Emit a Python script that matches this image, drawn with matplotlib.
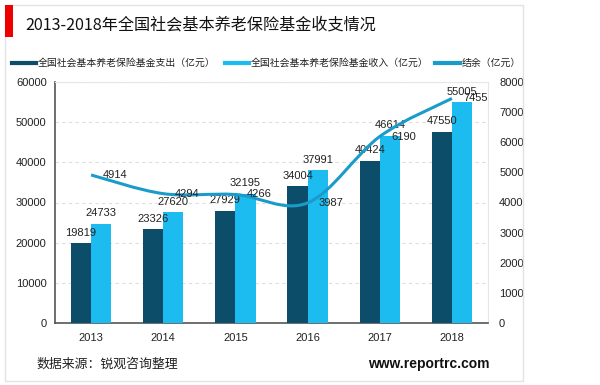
import matplotlib
matplotlib.use("Agg")
import matplotlib.pyplot as plt
from matplotlib.path import Path
from matplotlib.patches import PathPatch, Rectangle
import numpy as np

years = ["2013", "2014", "2015", "2016", "2017", "2018"]
expend = [19819, 23326, 27929, 34004, 40424, 47550]
income = [24733, 27620, 32195, 37991, 46614, 55005]
balance = [4914, 4294, 4266, 3987, 6190, 7455]

title = "2013-2018年全国社会基本养老保险基金收支情况"
leg_expend = "全国社会基本养老保险基金支出（亿元）"
leg_income = "全国社会基本养老保险基金收入（亿元）"
leg_balance = "结余（亿元）"
source = "数据来源：锐观咨询整理"
site = "www.reportrc.com"

CJK = ["Noto Sans CJK SC", "DejaVu Sans"]
NUM = ["Liberation Sans", "DejaVu Sans"]
c_dark = "#0c4e6a"
c_light = "#1cbcf0"
c_line = "#1a9ccb"

W, H = 600, 385
fig = plt.figure(figsize=(W / 100, H / 100), dpi=100)
fig.patch.set_facecolor("white")

# card frame
fig.patches.append(Rectangle((5 / W, 1 - 381 / H), 518 / W, 376 / H, transform=fig.transFigure,
                             facecolor="none", edgecolor="#e2e2e2", lw=1.0))
# red bar
fig.patches.append(Rectangle((5 / W, 1 - 37 / H), 8 / W, 32 / H, transform=fig.transFigure,
                             facecolor="#ee0000", edgecolor="none"))
fig.text(25 / W, 1 - 25 / H, title, family=CJK, fontsize=11.6, va="center", ha="left", color="#111111")

# axes
x0, x1, yt, yb = 55, 488, 82, 323
ax = fig.add_axes([x0 / W, 1 - yb / H, (x1 - x0) / W, (yb - yt) / H])
ax2 = ax.twinx()

x = np.arange(len(years))
bw = 0.28
ax.bar(x - bw / 2, expend, bw, color=c_dark, zorder=3)
ax.bar(x + bw / 2, income, bw, color=c_light, zorder=3)
ax.set_xlim(-0.5, len(years) - 0.5)
ax.set_ylim(0, 60000)
ax.set_yticks(np.arange(0, 60001, 10000))
ax.set_xticks(x)
ax.set_xticklabels(years)
ax.yaxis.grid(True, color="#dddddd", ls=(0, (3, 3)), lw=0.8)
ax.set_axisbelow(True)
for lab in ax.get_xticklabels() + ax.get_yticklabels():
    lab.set_family(NUM)
    lab.set_fontsize(8)
    lab.set_color("#222222")
ax.tick_params(length=0, pad=6)
ax.tick_params(axis="x", pad=7)
ax.spines["left"].set_color("#555555")
ax.spines["bottom"].set_color("#555555")
ax.spines["left"].set_linewidth(1.2)
ax.spines["bottom"].set_linewidth(1.2)
for s in ["top", "right"]:
    ax.spines[s].set_color("#e6e6e6")

for xi, v in zip(x, expend):
    ax.annotate(str(v), (xi - bw / 2, v), xytext=(0, 4), textcoords="offset points",
                ha="center", va="bottom", fontsize=8, family=NUM, color="#222222", zorder=5)
for xi, v in zip(x, income):
    ax.annotate(str(v), (xi + bw / 2, v), xytext=(0, 4), textcoords="offset points",
                ha="center", va="bottom", fontsize=8, family=NUM, color="#222222", zorder=5)

ax2.set_ylim(0, 8000)
ax2.set_yticks(np.arange(0, 8001, 1000))
for lab in ax2.get_yticklabels():
    lab.set_family(NUM)
    lab.set_fontsize(8)
    lab.set_color("#222222")
ax2.tick_params(length=0, pad=8)
for s in ax2.spines.values():
    s.set_visible(False)

# smooth line (Catmull-Rom -> cubic Bezier) through the data points
pts = np.column_stack([x, balance]).astype(float)
verts = [tuple(pts[0])]
codes = [Path.MOVETO]
n = len(pts)
for i in range(n - 1):
    p0 = pts[i - 1] if i > 0 else pts[i]
    p1 = pts[i]
    p2 = pts[i + 1]
    p3 = pts[i + 2] if i + 2 < n else pts[i + 1]
    c1 = p1 + (p2 - p0) / 6
    c2 = p2 - (p3 - p1) / 6
    verts += [tuple(c1), tuple(c2), tuple(p2)]
    codes += [Path.CURVE4] * 3
ax2.add_patch(PathPatch(Path(verts, codes), facecolor="none", edgecolor=c_line, lw=2.2, zorder=4))
for xi, v in zip(x, balance):
    ax2.annotate(str(v), (xi, v), xytext=(17, 0), textcoords="offset points",
                 ha="center", va="center", fontsize=8, family=NUM, color="#222222", zorder=5)

# legend (manual, figure coords)
ly = 1 - 63 / H
items = [(12, 36, c_dark, leg_expend), (225, 249, c_light, leg_income), (435, 460, c_line, leg_balance)]
for xa, xb, col, txt in items:
    fig.add_artist(plt.Line2D([xa / W, xb / W], [ly, ly], color=col, lw=3, transform=fig.transFigure))
    fig.text((xb + 2) / W, ly, txt, family=CJK, fontsize=7.1, va="center", ha="left", color="#222222")

fig.text(36 / W, 1 - 364 / H, source, family=CJK, fontsize=9.3, va="center", ha="left", color="#222222")
fig.text(490 / W, 1 - 364 / H, site, family=NUM, fontsize=10, fontweight="bold", va="center", ha="right",
         color="#111111")

fig.savefig("out.png", dpi=100, facecolor="white")
